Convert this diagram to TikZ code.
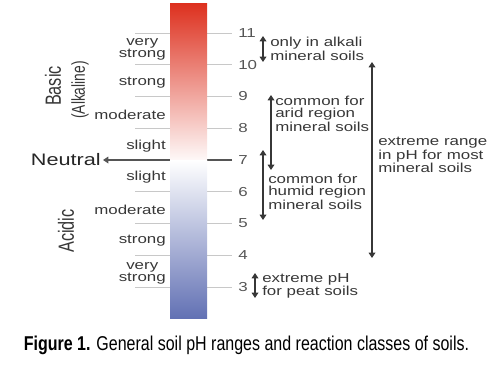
\documentclass[tikz,border=0pt]{standalone}
\usepackage{fontspec}
\setmainfont{Liberation Sans}
\newfontfamily\labelfont{Liberation Sans}[FakeStretch=1.3]
\newfontfamily\narrowfont{Liberation Sans}[FakeStretch=0.74]
\newfontfamily\capfont{Liberation Sans}[FakeStretch=0.8]
\usepackage{tikz}
\usetikzlibrary{positioning}
\usetikzlibrary{arrows.meta}
\definecolor{phred}{RGB}{221,48,30}
\definecolor{phblue}{RGB}{98,113,180}
\definecolor{inkgray}{RGB}{55,55,55}
\definecolor{numgray}{RGB}{85,85,85}
\definecolor{tickgray}{RGB}{200,200,200}
\tikzset{
  classlabel/.style={font=\labelfont\fontsize{9.75}{9}\selectfont, text=inkgray, align=center, anchor=east, inner sep=0pt},
  rangelabel/.style={font=\labelfont\fontsize{9.75}{9}\selectfont, text=inkgray, align=left, anchor=west, inner sep=0pt},
  phnum/.style={font=\labelfont\fontsize{9.75}{9}\selectfont, text=numgray, anchor=west, inner sep=0pt},
  sidelabel/.style={font=\narrowfont\fontsize{16.5}{18}\selectfont, text=inkgray, rotate=90, inner sep=0pt},
  tickline/.style={draw=tickgray, line width=0.6pt},
  rangearrow/.style={draw=inkgray, line width=0.9pt, arrows={Triangle[width=5pt,length=4pt]-Triangle[width=5pt,length=4pt]}}
}

\begin{document}
\begin{tikzpicture}[x=0.75pt,y=-0.75pt]
            \useasboundingbox (0,0) rectangle (502,365);
            % Ticks and pH numbers
            \foreach \p in {3,...,11} {
                \pgfmathsetmacro\yy{160-(\p-7)*31.75}
                \ifnum\p=7\else
                    \draw[tickline] (135,\yy) -- (170,\yy);
                    \draw[tickline] (207,\yy) -- (232,\yy);
                \fi
                \node[phnum] (n\p) at (238,\yy) {\p};
            }
            % Neutral line
            \node[font=\labelfont\fontsize{12.5}{14}\selectfont, text=black!85, anchor=east, inner sep=0pt] (neutral) at (101,160) {Neutral};
            \coordinate (neutral end) at (232,160);
            \draw[draw=numgray, line width=0.9pt, -{Triangle[width=5pt,length=4pt]}] (neutral end) -- ([xshift=1.5pt]neutral.east);
            % Colour bar
            \shade[top color=phred, bottom color=white] (170,3) rectangle (207,165);
            \shade[top color=white, bottom color=phblue] (170,160) rectangle (207,318);
            % Reaction classes
            \node[classlabel] (vsb) at (166,49) {very\\strong};
            \node[classlabel] (sb) at (166,83) {strong};
            \node[classlabel] (mb) at (166,114.5) {moderate};
            \node[classlabel] (slb) at (166,146) {slight};
            \node[classlabel] (sla) at (166,177.5) {slight};
            \node[classlabel] (ma) at (166,209.5) {moderate};
            \node[classlabel] (sa) at (166,241) {strong};
            \node[classlabel] (vsa) at (166,273) {very\\strong};
            \node[sidelabel] (basic) at (53,86) {Basic};
            \node[sidelabel, font=\narrowfont\fontsize{14}{16}\selectfont] (alkaline) at (80,90) {(Alkaline)};
            \node[sidelabel] (acidic) at (66,231) {Acidic};
            % Ranges
            \coordinate (alk top) at (263,36);
            \coordinate (alk bot) at (263,62);
            \draw[rangearrow] (alk top) -- (alk bot);
            \node[rangelabel] (alk) at (270,49) {only in alkali\\mineral soils};
            \coordinate (arid top) at (271,95);
            \coordinate (arid bot) at (271,170);
            \draw[rangearrow] (arid top) -- (arid bot);
            \node[rangelabel] (arid) at (275,114) {common for\\arid region\\mineral soils};
            \coordinate (humid top) at (263,150);
            \coordinate (humid bot) at (263,220);
            \draw[rangearrow] (humid top) -- (humid bot);
            \node[rangelabel] (humid) at (268,192) {common for\\humid region\\mineral soils};
            \coordinate (ext top) at (372,62);
            \coordinate (ext bot) at (372,258);
            \draw[rangearrow] (ext top) -- (ext bot);
            \node[rangelabel] (ext) at (378,155) {extreme range\\in pH for most\\mineral soils};
            \coordinate (peat top) at (255,273);
            \coordinate (peat bot) at (255,298);
            \draw[rangearrow] (peat top) -- (peat bot);
            \node[rangelabel] (peat) at (262,286) {extreme pH\\for peat soils};
            % Caption
            \node[font=\capfont\fontsize{15}{18}\selectfont, anchor=base, inner sep=0pt] (caption) at (246.5,350) {\textbf{Figure 1.} General soil pH ranges and reaction classes of soils.};
        \end{tikzpicture}
\end{document}
